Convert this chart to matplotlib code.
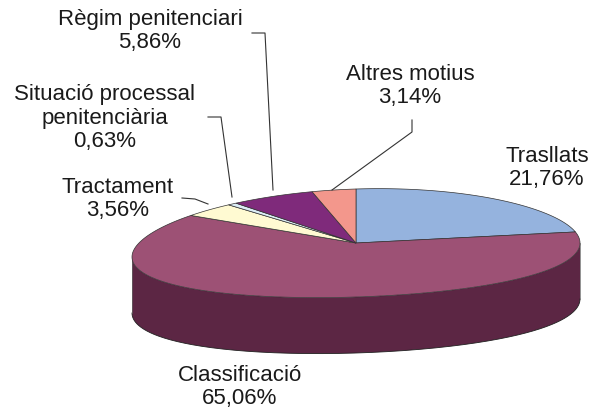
import numpy as np
import matplotlib
matplotlib.use("Agg")
import matplotlib.pyplot as plt
from matplotlib.patches import Polygon

plt.rcParams['font.family'] = ['Liberation Sans', 'DejaVu Sans']

# Data (clockwise from 12 o'clock)
categories = ["Trasllats", "Classificació", "Tractament",
              "Situació processal\npenitenciària", "Règim penitenciari", "Altres motius"]
values = [21.76, 65.06, 3.56, 0.63, 5.86, 3.14]
pct_labels = ["21,76%", "65,06%", "3,56%", "0,63%", "5,86%", "3,14%"]
top_colors = ["#95b3de", "#9d5175", "#fffad2", "#dcedf6", "#7f2a7b", "#f3978c"]
side_colors = ["#5a6f8c", "#5c2644", "#a09c80", "#8a969c", "#4a1848", "#9a5a54"]

# geometry (pixel space)
cx, cy, rx, ry, shear, bulge, depth = 356, 243, 224, 54, 7, 7, 56

def pt(t_deg, dz=0.0):
    t = np.radians(t_deg)
    return (cx + rx * np.cos(t),
            cy - ry * np.sin(t) - shear * np.cos(t) + bulge * np.cos(t) ** 2 + dz)

fig = plt.figure(figsize=(5.92, 4.12), dpi=100)
ax = fig.add_axes([0, 0, 1, 1])
ax.set_xlim(0, 592)
ax.set_ylim(412, 0)
ax.axis('off')

total = sum(values)
starts, ends = [], []
cum = 0
for v in values:
    a0 = 90 - 360 * cum / total
    cum += v
    a1 = 90 - 360 * cum / total
    starts.append(a0)
    ends.append(a1)

# side walls (front half: angles in [-180, 0])
for a0, a1, sc in zip(starts, ends, side_colors):
    lo, hi = min(a0, a1), max(a0, a1)
    for shift in (0, -360, 360):
        l, h = max(lo + shift, -180), min(hi + shift, 0)
        if h > l:
            ts = np.linspace(h, l, 200)
            top = [pt(t) for t in ts]
            bot = [pt(t, depth) for t in ts[::-1]]
            ax.add_patch(Polygon(top + bot, closed=True, facecolor=sc,
                                 edgecolor='none', zorder=1))
# side outline
ts = np.linspace(0, -180, 300)
ax.plot([pt(t, depth)[0] for t in ts], [pt(t, depth)[1] for t in ts],
        color='#222222', lw=0.6, zorder=2)
for t in (0, -180):
    p0, p1 = pt(t), pt(t, depth)
    ax.plot([p0[0], p1[0]], [p0[1], p1[1]], color='#666666', lw=0.5, zorder=2)

# top surfaces
for a0, a1, tc in zip(starts, ends, top_colors):
    n = max(int(abs(a1 - a0)) * 2, 4)
    ts = np.linspace(a0, a1, n)
    poly = [(cx, cy)] + [pt(t) for t in ts]
    ax.add_patch(Polygon(poly, closed=True, facecolor=tc,
                         edgecolor='#333333', lw=0.5, zorder=3))

# labels
label_pos = [(547, 168), (240, 387), (118, 199), (105, 118), (150, 31), (410, 86)]
for cat, pl, (x, y) in zip(categories, pct_labels, label_pos):
    ax.text(x, y, f"{cat}\n{pl}", ha='center', va='center', multialignment='center',
            fontsize=16, color='#1a1a1a', linespacing=1.15, zorder=5)

# leader lines
leaders = [
    [(252, 33), (265, 33), (273, 190)],
    [(208, 117), (221, 117), (232, 197)],
    [(182, 198), (195, 199), (208, 204)],
    [(412, 120), (412, 132), (332, 190)],
]
for ln in leaders:
    xs, ys = zip(*ln)
    ax.plot(xs, ys, color='#333333', lw=0.8, zorder=4)

fig.savefig("out.png", dpi=100)
